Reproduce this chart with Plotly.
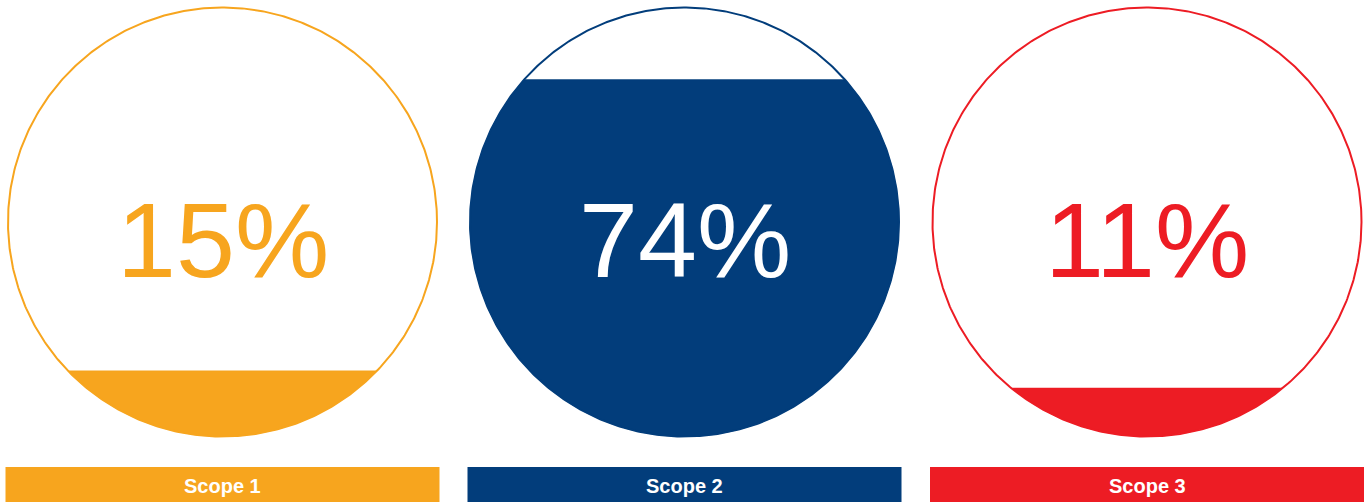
import numpy as np
import plotly.graph_objects as go

# ---- data ----
categories = ["Scope 1", "Scope 2", "Scope 3"]
shares = [15, 74, 11]                      # percent labels
fill_levels = [0.153, 0.832, 0.113]        # fill height as share of diameter
colors = ["#F7A51E", "#023D7B", "#ED1C24"]
label_text_colors = ["#F7A51E", "#FFFFFF", "#ED1C24"]

# ---- layout geometry (pixels) ----
W, H = 1367, 502
centers_x = [222.5, 684.5, 1147.0]
cy = 222.0
r = 214.5
bar_half = 217
bar_top, bar_bottom = 467, 502

fig = go.Figure()
shapes = []
annotations = []

for i, cat in enumerate(categories):
    cx = centers_x[i]
    col = colors[i]
    # filled segment from bottom
    y_top = cy + r - fill_levels[i] * 2 * r
    s = (y_top - cy) / r
    t0 = np.arcsin(s)
    t = np.linspace(t0, np.pi - t0, 300)
    xs = cx + r * np.cos(t)
    ys = cy + r * np.sin(t)
    xs = np.append(xs, xs[0])
    ys = np.append(ys, ys[0])
    fig.add_trace(go.Scatter(x=xs, y=ys, mode="lines", fill="toself",
                             fillcolor=col, line=dict(color=col, width=0.5),
                             hoverinfo="skip", showlegend=False))
    # outline
    ta = np.linspace(0, 2 * np.pi, 600)
    fig.add_trace(go.Scatter(x=cx + r * np.cos(ta), y=cy + r * np.sin(ta), mode="lines",
                             line=dict(color=col, width=2),
                             hoverinfo="skip", showlegend=False))
    # percentage text
    annotations.append(dict(x=cx, y=240, xref="x", yref="y", text=f"{shares[i]}%",
                            showarrow=False, xanchor="center", yanchor="middle",
                            font=dict(family="Liberation Sans, Arial, sans-serif",
                                      size=106, color=label_text_colors[i])))
    # label bar
    shapes.append(dict(type="rect", xref="x", yref="y",
                       x0=cx - bar_half, x1=cx + bar_half, y0=bar_top, y1=bar_bottom,
                       fillcolor=col, line=dict(width=0), layer="below"))
    annotations.append(dict(x=cx, y=(bar_top + bar_bottom) / 2 + 1, xref="x", yref="y",
                            text=f"<b>{cat}</b>", showarrow=False,
                            xanchor="center", yanchor="middle",
                            font=dict(family="Liberation Sans, Arial, sans-serif",
                                      size=20, color="#FFFFFF")))

fig.update_layout(
    width=W, height=H,
    margin=dict(l=0, r=0, t=0, b=0),
    paper_bgcolor="white", plot_bgcolor="white",
    xaxis=dict(range=[0, W], visible=False, fixedrange=True),
    yaxis=dict(range=[H, 0], visible=False, fixedrange=True),
    shapes=shapes, annotations=annotations,
    showlegend=False,
)

fig.write_html("out.html", config={"displayModeBar": False})
